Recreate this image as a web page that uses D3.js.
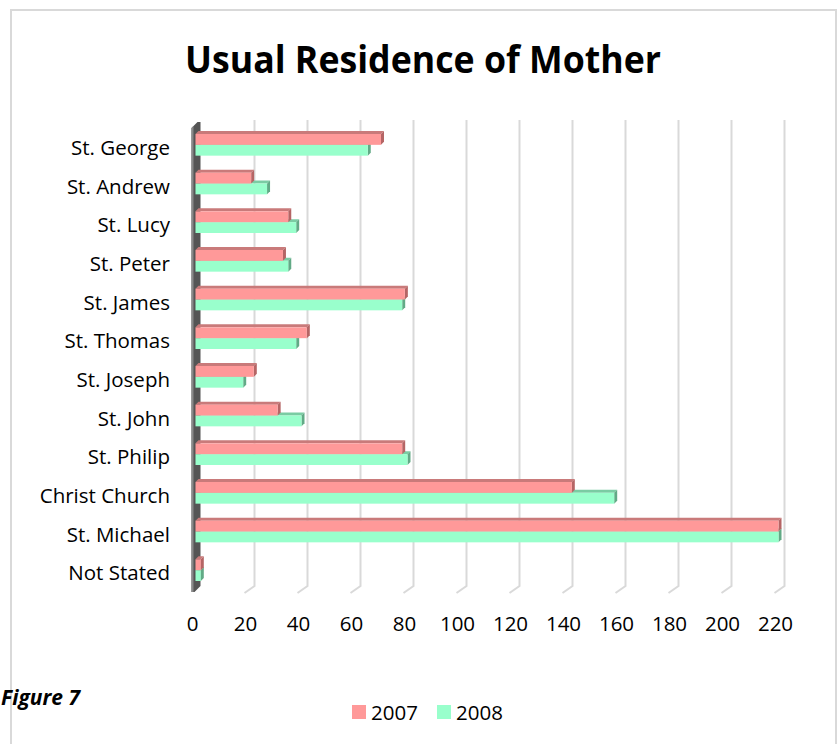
<!DOCTYPE html>
<html>
<head>
<meta charset="utf-8">
<script src="https://cdn.jsdelivr.net/npm/d3@7"></script>
<style>
  body { margin: 0; background: #fff; }
  svg { display: block; }
  text { font-family: "Open Sans", "DejaVu Sans", sans-serif; fill: #000; }
</style>
</head>
<body>
<script>
const width = 840, height = 744;

// data (top to bottom)
const categories = ["St. George", "St. Andrew", "St. Lucy", "St. Peter", "St. James", "St. Thomas",
  "St. Joseph", "St. John", "St. Philip", "Christ Church", "St. Michael", "Not Stated"];
const values2007 = [70, 21, 35, 33, 79, 42, 22, 31, 78, 142, 220, 2];
const values2008 = [65, 27, 38, 35, 78, 38, 18, 40, 80, 158, 220, 2];
const seriesNames = ["2007", "2008"];
const xTicks = [0, 20, 40, 60, 80, 100, 120, 140, 160, 180, 200, 220];

const colors = {
  "2007": { front: "#ff9999", top: "#c97a7a", side: "#b56565" },
  "2008": { front: "#99ffcc", top: "#7acca3", side: "#62aa86" }
};

const svg = d3.select("body").append("svg")
  .attr("width", width)
  .attr("height", height);

// chart frame
svg.append("rect")
  .attr("x", 11).attr("y", 10)
  .attr("width", 825).attr("height", 760)
  .attr("fill", "#fff")
  .attr("stroke", "#d9d9d9")
  .attr("stroke-width", 2);

svg.append("text")
  .attr("x", 423).attr("y", 73)
  .attr("text-anchor", "middle")
  .attr("font-size", 38)
  .attr("font-weight", "bold")
  .attr("textLength", 476)
  .attr("lengthAdjust", "spacingAndGlyphs")
  .text("Usual Residence of Mother");

// scales (bar plane), plus 3d offsets for back wall and floor front
const x = d3.scaleLinear().domain([0, 220]).range([195.5, 778.5]);
const y = d3.scaleBand().domain(categories).range([125.5, 589.5]).paddingInner(0.44).paddingOuter(0.22);
const backDx = 6, backTop = 120, backBottom = 586;
const floorDx = -10, floorDy = 7;
const depth = 3;

// gridlines: back wall verticals + slant on the floor
const grid = svg.append("g");
xTicks.filter(d => d > 0).forEach(d => {
  const xb = x(d) + backDx;
  grid.append("path")
    .attr("d", `M${xb},${backTop} L${xb},${backBottom} L${xb + floorDx},${backBottom + floorDy}`)
    .attr("fill", "none")
    .attr("stroke", "#d9d9d9")
    .attr("stroke-width", 2);
});

// left wall
const wx = x(0) - 4;
svg.append("path")
  .attr("d", `M${wx},128 L${wx + 6},122 L${wx + 9},122 L${wx + 9},586 L${wx + 3},592 L${wx},592 Z`)
  .attr("fill", "#555555");
svg.append("path")
  .attr("d", `M${wx},128 L${wx + 2},126 L${wx + 2},592 L${wx},592 Z`)
  .attr("fill", "#8a8a8a");

// 3d bars
const barH = (y.bandwidth()) / 2;
function drawBar(g, v, y0, c) {
  const x0 = x(0), x1 = x(v);
  g.append("path")
    .attr("d", `M${x0},${y0} L${x0 + depth},${y0 - depth} L${x1 + depth},${y0 - depth} L${x1},${y0} Z`)
    .attr("fill", c.top);
  g.append("path")
    .attr("d", `M${x1},${y0} L${x1 + depth},${y0 - depth} L${x1 + depth},${y0 + barH - depth} L${x1},${y0 + barH} Z`)
    .attr("fill", c.side);
  g.append("rect")
    .attr("x", x0).attr("y", y0)
    .attr("width", x1 - x0).attr("height", barH)
    .attr("fill", c.front);
}

const bars = svg.append("g");
categories.forEach((cat, i) => {
  drawBar(bars, values2008[i], y(cat) + barH, colors["2008"]);
  drawBar(bars, values2007[i], y(cat), colors["2007"]);
});

// category labels
svg.append("g").selectAll("text")
  .data(categories)
  .join("text")
  .attr("x", 170)
  .attr("y", d => y(d) + y.bandwidth() / 2 + 3)
  .attr("dy", "0.35em")
  .attr("text-anchor", "end")
  .attr("font-size", 20.5)
  .text(d => d);

// value axis labels
svg.append("g").selectAll("text")
  .data(xTicks)
  .join("text")
  .attr("x", d => x(d) - 3)
  .attr("y", 631)
  .attr("text-anchor", "middle")
  .attr("font-size", 20.5)
  .text(d => d);

// figure caption
svg.append("text")
  .attr("x", 80).attr("y", 705)
  .attr("text-anchor", "end")
  .attr("font-size", 21)
  .attr("font-weight", "bold")
  .attr("font-style", "italic")
  .text("Figure 7");

// legend
const legend = svg.append("g");
const legendX = [352, 437];
seriesNames.forEach((s, i) => {
  legend.append("rect")
    .attr("x", legendX[i]).attr("y", 705)
    .attr("width", 14).attr("height", 14)
    .attr("fill", colors[s].front);
  legend.append("text")
    .attr("x", legendX[i] + 19).attr("y", 720)
    .attr("font-size", 20.5)
    .text(s);
});
</script>
</body>
</html>
